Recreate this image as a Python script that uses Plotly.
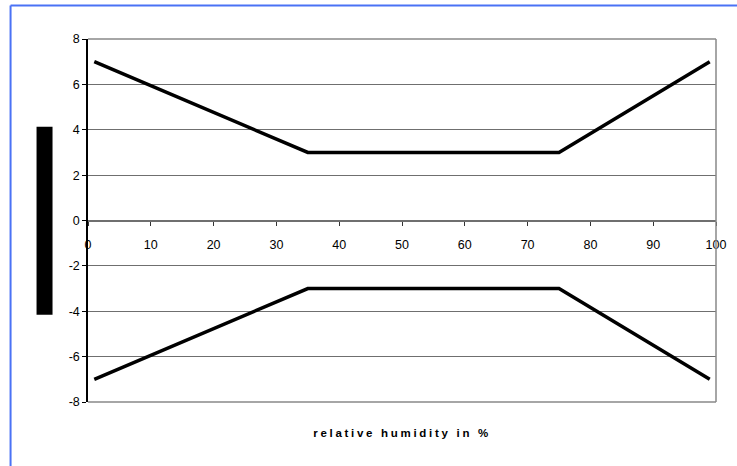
import plotly.graph_objects as go

# Data
x_vals = [1, 35, 75, 99]
upper = [7, 3, 3, 7]
lower = [-7, -3, -3, -7]
x_ticks = [0, 10, 20, 30, 40, 50, 60, 70, 80, 90, 100]
y_ticks = [-8, -6, -4, -2, 0, 2, 4, 6, 8]
x_title = "relative humidity in %"

W, H = 737, 466
L, R, T, B = 87.5, 21, 39, 64
pw = W - L - R
ph = H - T - B

def px_x(x):
    return (x - L) / pw

def px_y(y):
    return (H - B - y) / ph

fig = go.Figure()
for yv in (upper, lower):
    fig.add_trace(go.Scatter(x=x_vals, y=yv, mode="lines",
                             line=dict(color="black", width=3.5),
                             showlegend=False, hoverinfo="skip"))

font = dict(family="Liberation Sans, Arial", size=12.5, color="black")
grid = "#6f6f6f"

fig.update_layout(
    width=W, height=H,
    margin=dict(l=L, r=R, t=T, b=B),
    paper_bgcolor="white", plot_bgcolor="white",
    font=font,
    showlegend=False,
    xaxis=dict(range=[0, 100], tickvals=x_ticks, ticktext=[str(v) for v in x_ticks],
               anchor="free", position=0.5, showline=True, linecolor=grid, linewidth=1.2,
               ticks="outside", ticklen=4, tickcolor="#333", showgrid=False,
               tickfont=font,
               zeroline=False, ticklabelstandoff=8, fixedrange=True),
    yaxis=dict(range=[-8, 8], tickvals=y_ticks, ticktext=[str(v) for v in y_ticks],
               showline=True, linecolor="black", linewidth=1.5,
               ticks="outside", ticklen=4, tickcolor="black", tickfont=font,
               showgrid=True, gridcolor=grid, gridwidth=1.2, zeroline=False, fixedrange=True),
)

shapes = []
# plot area border (gray top/right/bottom)
border = "#888"
shapes.append(dict(type="line", xref="paper", yref="paper", x0=0, x1=1, y0=1, y1=1,
                   line=dict(color=border, width=1.5)))
shapes.append(dict(type="line", xref="paper", yref="paper", x0=0, x1=1, y0=0, y1=0,
                   line=dict(color=border, width=1.5)))
shapes.append(dict(type="line", xref="paper", yref="paper", x0=1, x1=1, y0=0, y1=1,
                   line=dict(color=border, width=1.5)))
# black block on left (y-axis title box)
shapes.append(dict(type="rect", xref="paper", yref="paper",
                   x0=px_x(36), x1=px_x(52), y0=px_y(314.7), y1=px_y(126.7),
                   fillcolor="black", line=dict(width=0)))
# blue outer frame (left and top visible)
blue = "#4a72f5"
shapes.append(dict(type="line", xref="paper", yref="paper",
                   x0=px_x(10), x1=px_x(10), y0=px_y(5.5), y1=px_y(480),
                   line=dict(color=blue, width=2)))
shapes.append(dict(type="line", xref="paper", yref="paper",
                   x0=px_x(10), x1=px_x(745), y0=px_y(5.5), y1=px_y(5.5),
                   line=dict(color=blue, width=2)))
fig.update_layout(shapes=shapes)

fig.add_annotation(x=0.5, y=px_y(433), xref="paper", yref="paper",
                   text=x_title, showarrow=False, xanchor="center", yanchor="middle",
                   font=dict(family="Liberation Sans, Arial", size=11.5, color="black", weight="bold"))

post = """
document.body.style.margin = '0';
document.body.style.padding = '0';
document.documentElement.style.overflow = 'hidden';
var t = document.querySelectorAll('.annotation-text');
t.forEach(function(e){ e.style.letterSpacing = '2.7px'; });
"""
fig.write_html("out.html", post_script=post, config={"displayModeBar": False})
